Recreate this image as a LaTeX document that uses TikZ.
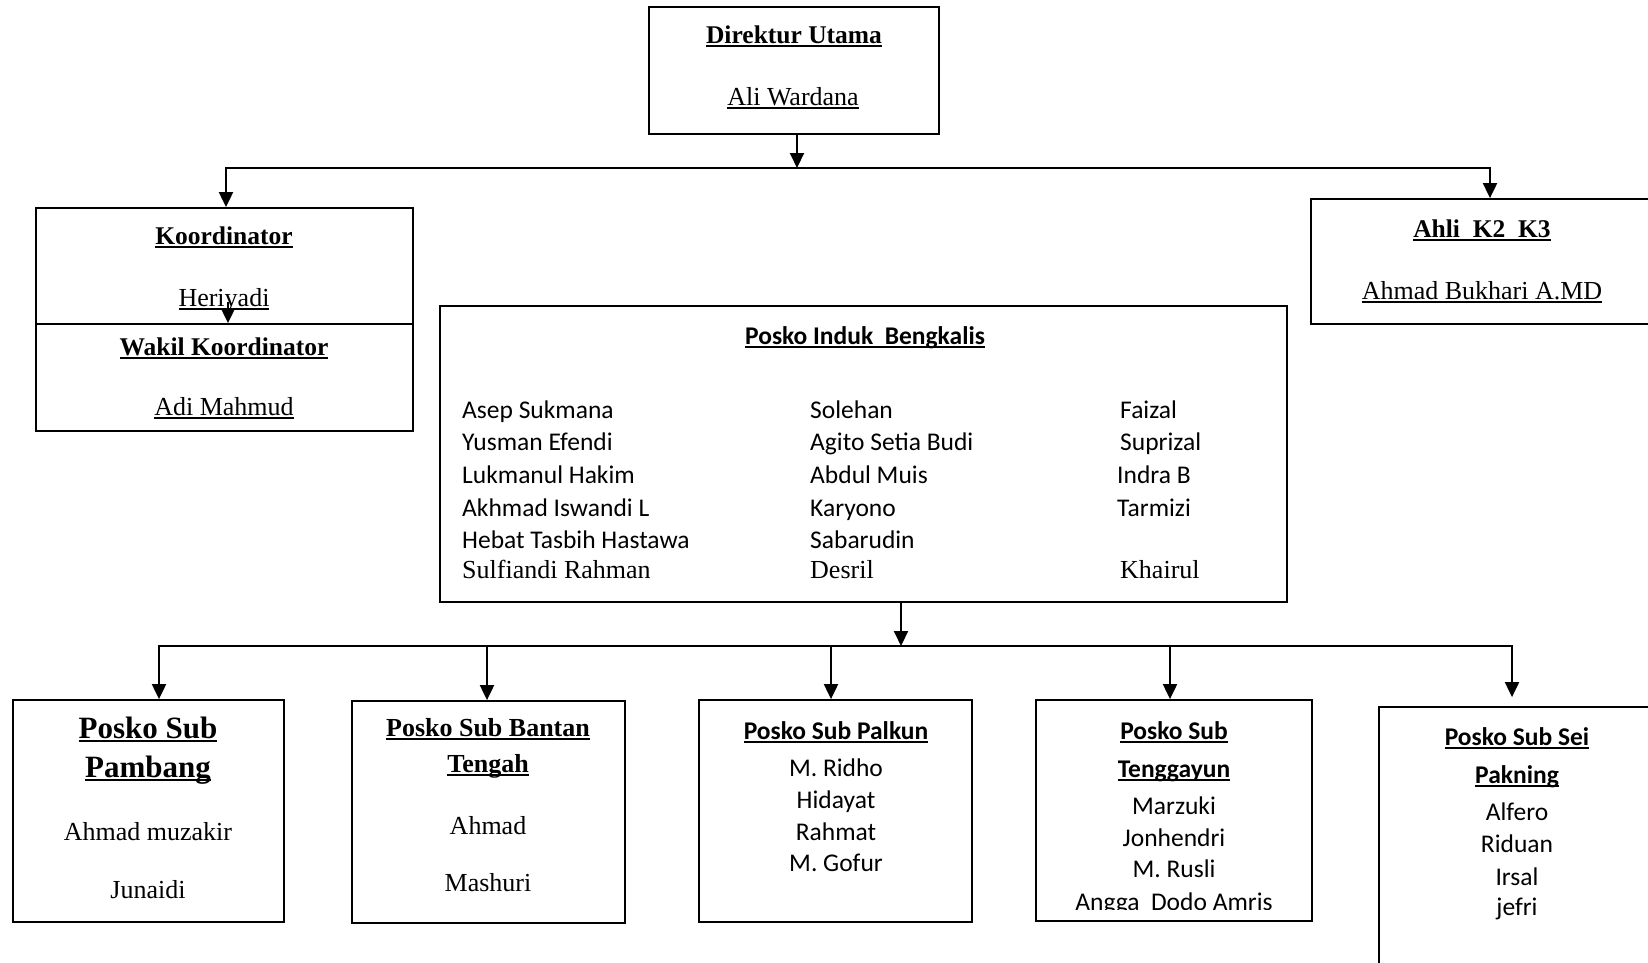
\documentclass[tikz,border=0pt]{standalone}
\usepackage{fontspec}
\setmainfont{Liberation Serif}
\newfontfamily\calfont{Carlito}
\usetikzlibrary{arrows.meta,calc}
\newcommand{\myul}[1]{\setbox0\hbox{#1}\rlap{\rule[-0.13em]{\wd0}{0.065em}}\box0}
\tikzset{
  box/.style={draw, line width=1.8pt, inner sep=0pt},
  ln/.style={line width=2pt, line cap=rect},
  arr/.style={line width=2pt, -{Triangle[length=15pt,width=14pt]}},
  txt/.style={inner sep=0pt, text height=18pt, text depth=5pt, yshift=-2pt},
  tr/.style={txt, font=\fontsize{26}{30}\selectfont},
  tb/.style={txt, font=\fontsize{25.5}{30}\selectfont\bfseries},
  tbig/.style={txt, font=\fontsize{31}{36}\selectfont\bfseries, text height=22pt, text depth=6pt},
  cr/.style={txt, font=\fontsize{25.5}{30}\selectfont\calfont},
  cb/.style={txt, font=\fontsize{25.5}{30}\selectfont\calfont\bfseries},
}
\begin{document}
\begin{tikzpicture}[x=1pt,y=-1pt]
\useasboundingbox (0,0) rectangle (1648,963);
\clip (0,0) rectangle (1648,963);
\fill[white] (0,0) rectangle (1648,963);

% boxes
\node[box, minimum width=290, minimum height=127] (dir) at (794,70.5) {};
\node[box, minimum width=377, minimum height=116] (kor) at (224.5,266) {};
\node[box, minimum width=377, minimum height=107] (wak) at (224.5,377.5) {};
\node[box, minimum width=344, minimum height=125] (ahli) at (1483,261.5) {};
\node[box, minimum width=847, minimum height=296] (ind) at (863.5,454) {};
\node[box, minimum width=271, minimum height=222] (pam) at (148.5,811) {};
\node[box, minimum width=273, minimum height=222] (ban) at (488.5,812) {};
\node[box, minimum width=273, minimum height=222] (pal) at (835.5,811) {};
\node[box, minimum width=276, minimum height=221] (ten) at (1174,810.5) {};
\node[box, minimum width=276, minimum height=293] (sei) at (1517,853.5) {};

% Direktur
\node[tb] (dirT) at (794,35) {\myul{Direktur Utama}};
\node[tr] (dirN) at (793,97) {\myul{Ali Wardana}};
% Koordinator
\node[tb] (korT) at (224,236) {\myul{Koordinator}};
\node[tr] (korN) at (224,298) {\myul{Heriyadi}};
\node[tb] (wakT) at (224,347) {\myul{Wakil Koordinator}};
\node[tr] (wakN) at (224,407) {\myul{Adi Mahmud}};
% Ahli
\node[tb] (ahliT) at (1482,229) {\myul{Ahli\ \ K2\ \ K3}};
\node[tr] (ahliN) at (1482,291) {\myul{Ahmad\ Bukhari\ A.MD}};

% Posko Induk
\node[cb] (indT) at (865,336) {\myul{Posko Induk\ \ Bengkalis}};
\node[cr, anchor=west] (a1) at (462,410) {Asep Sukmana};
\node[cr, anchor=west] (a2) at (462,442) {Yusman Efendi};
\node[cr, anchor=west] (a3) at (462,475) {Lukmanul Hakim};
\node[cr, anchor=west] (a4) at (462,508) {Akhmad Iswandi L};
\node[cr, anchor=west] (a5) at (462,540) {Hebat Tasbih Hastawa};
\node[tr, anchor=west] (a6) at (462,570) {Sulfiandi Rahman};
\node[cr, anchor=west] (b1n) at (810,410) {Solehan};
\node[cr, anchor=west] (b2n) at (810,442) {Agito Setia Budi};
\node[cr, anchor=west] (b3n) at (810,475) {Abdul Muis};
\node[cr, anchor=west] (b4n) at (810,508) {Karyono};
\node[cr, anchor=west] (b5n) at (810,540) {Sabarudin};
\node[tr, anchor=west] (b6n) at (810,570) {Desril};
\node[cr, anchor=west] (c1) at (1120,410) {Faizal};
\node[cr, anchor=west] (c2) at (1120,442) {Suprizal};
\node[cr, anchor=west] (c3) at (1117,475) {Indra B};
\node[cr, anchor=west] (c4) at (1117,508) {Tarmizi};
\node[tr, anchor=west] (c6) at (1120,570) {Khairul};

% Pambang
\node[tbig] (pamT1) at (148,728) {\myul{Posko Sub}};
\node[tbig] (pamT2) at (148,767) {\myul{Pambang}};
\node[tr] (pam1) at (148,832) {Ahmad muzakir};
\node[tr] (pam2) at (148,890) {Junaidi};
% Bantan
\node[tb, font=\fontsize{26}{30}\selectfont\bfseries] (banT1) at (488,728) {\myul{Posko Sub Bantan}};
\node[tb, font=\fontsize{26}{30}\selectfont\bfseries] (banT2) at (488,764) {\myul{Tengah}};
\node[tr] (ban1) at (488,826) {Ahmad};
\node[tr] (ban2) at (488,883) {Mashuri};
% Palkun
\node[cb] (palT) at (836,731) {\myul{Posko Sub Palkun}};
\node[cr] (pal1) at (836,768) {M. Ridho};
\node[cr] (pal2) at (836,800) {Hidayat};
\node[cr] (pal3) at (836,832) {Rahmat};
\node[cr] (pal4) at (836,863) {M. Gofur};
% Tenggayun
\node[cb] (tenT1) at (1174,731) {\myul{Posko Sub}};
\node[cb] (tenT2) at (1174,769) {\myul{Tenggayun}};
\node[cr] (ten1) at (1174,806) {Marzuki};
\node[cr] (ten2) at (1174,838) {Jonhendri};
\node[cr] (ten3) at (1174,869) {M. Rusli};
\begin{scope}
\clip (1040,880) rectangle (1308,909);
\node[cr] (ten4) at (1174,902) {Angga\ \ Dodo Amris};
\end{scope}
% Sei Pakning
\node[cb] (seiT1) at (1517,737) {\myul{Posko Sub Sei}};
\node[cb] (seiT2) at (1517,775) {\myul{Pakning}};
\node[cr] (sei1) at (1517,812) {Alfero};
\node[cr] (sei2) at (1517,844) {Riduan};
\node[cr] (sei3) at (1517,877) {Irsal};
\node[cr] (sei4) at (1517,907) {jefri};

% top connectors
\coordinate (tL) at (226,168);
\coordinate (tR) at (1490,168);
\coordinate (tD) at (797,168);
\draw[ln] (tL) -- (tR);
\draw[arr] (dir.south -| tD) -- (tD);
\draw[arr] (tL) -- (tL |- kor.north);
\draw[arr] (tR) -- (tR |- ahli.north);
\coordinate (kw) at (228,302);
\draw[arr] (kw) -- (kw |- wak.north);

% bottom connectors
\coordinate (bD) at (901,646);
\coordinate (d1) at (159,646);
\coordinate (d2) at (487,646);
\coordinate (d3) at (831,646);
\coordinate (d4) at (1170,646);
\coordinate (d5) at (1512,646);
\draw[ln] (d1) -- (d5);
\draw[arr] (ind.south -| bD) -- (bD);
\draw[arr] (d1) -- (d1 |- pam.north);
\draw[arr] (d2) -- (d2 |- ban.north);
\draw[arr] (d3) -- (d3 |- pal.north);
\draw[arr] (d4) -- (d4 |- ten.north);
\draw[arr, shorten >=9pt] (d5) -- (d5 |- sei.north);
\end{tikzpicture}
\end{document}
